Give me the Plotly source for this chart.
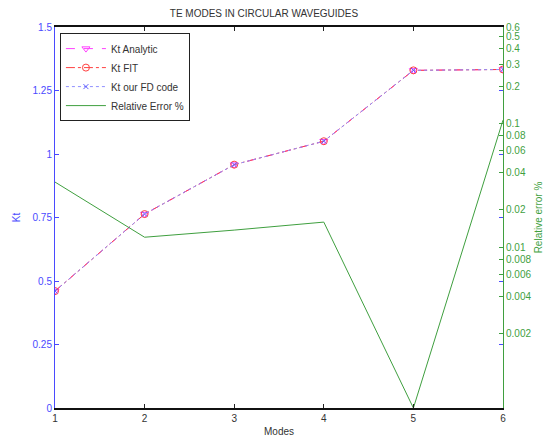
import plotly.graph_objects as go
import math

modes = [1, 2, 3, 4, 5, 6]
kt_analytic = [0.4603, 0.7635, 0.9580, 1.0503, 1.3293, 1.3328]
kt_fit = [0.4603, 0.7635, 0.9580, 1.0503, 1.3293, 1.3328]
kt_fd = [0.4603, 0.7635, 0.9580, 1.0503, 1.3293, 1.3328]
rel_err = [0.0335, 0.0120, 0.0137, 0.0159, 0.0005, 0.106]

left_ticks = [0, 0.25, 0.5, 0.75, 1, 1.25, 1.5]
left_labels = ["0", "0.25", "0.5", "0.75", "1", "1.25", "1.5"]
right_ticks = [0.002, 0.004, 0.006, 0.008, 0.01, 0.02, 0.04, 0.06, 0.08, 0.1, 0.2, 0.3, 0.4, 0.5, 0.6]
right_labels = ["0.002", "0.004", "0.006", "0.008", "0.01", "0.02", "0.04", "0.06", "0.08", "0.1", "0.2", "0.3", "0.4", "0.5", "0.6"]

BLUE = "#4a4aff"
GREEN = "#3f9f3f"
FONT = "Liberation Sans"

fig = go.Figure()
fig.add_trace(go.Scatter(x=modes, y=kt_analytic, name="Kt Analytic", mode="lines+markers",
                         line=dict(color="#ff40ff", dash="dash", width=1),
                         marker=dict(symbol="triangle-down-open", size=7, color="#ff40ff")))
fig.add_trace(go.Scatter(x=modes, y=kt_fit, name="Kt FIT", mode="lines+markers",
                         line=dict(color="#ff4040", dash="dashdot", width=1),
                         marker=dict(symbol="circle-open", size=7, color="#ff4040")))
fig.add_trace(go.Scatter(x=modes, y=kt_fd, name="Kt our FD code", mode="lines+markers",
                         line=dict(color="#9090ff", dash="dot", width=1),
                         marker=dict(symbol="x-thin-open", size=5, color="#6060ff", line=dict(width=1, color="#6060ff"))))
fig.add_trace(go.Scatter(x=modes, y=rel_err, name="Relative Error %", mode="lines",
                         line=dict(color=GREEN, width=1), yaxis="y2"))

fig.update_layout(
    width=547, height=438,
    margin=dict(l=55, r=44, t=27, b=30, autoexpand=False),
    paper_bgcolor="white", plot_bgcolor="white",
    font=dict(family=FONT, size=10, color="#333"),
    showlegend=True,
    title=dict(text="TE MODES IN CIRCULAR WAVEGUIDES", x=264/547, xanchor="center",
               y=1 - 13/438, yanchor="middle", font=dict(size=10, color="#333", family=FONT)),
    xaxis=dict(range=[1, 6], tickvals=modes, ticks="inside", ticklen=4, tickcolor="#222",
               showline=True, linecolor="#111", linewidth=2, mirror="ticks", showgrid=False,
               zeroline=False, tickfont=dict(size=10, color="#333"), automargin=False,
               title=dict(text="Modes", font=dict(size=10, color="#333"), standoff=5)),
    yaxis=dict(range=[0, 1.5], tickvals=left_ticks, ticktext=left_labels, ticks="inside", ticklen=4,
               tickcolor=BLUE, showline=True, linecolor=BLUE, linewidth=1, mirror="ticks",
               showgrid=False, zeroline=False, tickfont=dict(size=10, color=BLUE), automargin=False,
               title=dict(text="Kt", font=dict(size=10, color=BLUE), standoff=10)),
    yaxis2=dict(type="log", overlaying="y", side="right",
                range=[math.log10(0.0005), math.log10(0.6)],
                tickvals=right_ticks, ticktext=right_labels, ticks="inside", ticklen=4,
                tickcolor=GREEN, showline=True, linecolor=GREEN, linewidth=1, automargin=False,
                showgrid=False, zeroline=False, tickfont=dict(size=10, color=GREEN),
                title=dict(text="Relative error %", font=dict(size=10, color=GREEN), standoff=4)),
    legend=dict(x=0.011, y=0.984, xanchor="left", yanchor="top", bgcolor="white",
                bordercolor="#222", borderwidth=1, font=dict(size=10, color="#333"),
                tracegroupgap=0, itemwidth=40),
)

fig.write_html("out.html")
